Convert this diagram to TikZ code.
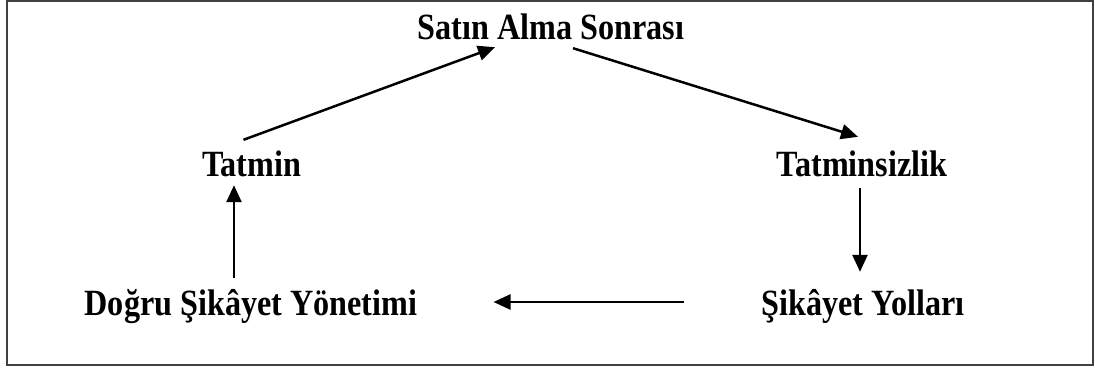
\documentclass[tikz,border=0pt]{standalone}
\usepackage{fontspec}
\newfontfamily\tnr{Liberation Serif}[FakeStretch=0.87]
\usetikzlibrary{arrows.meta}
\begin{document}
\begin{tikzpicture}[x=1pt,y=-1pt,
  lbl/.style={anchor=base,inner sep=0pt,text height=26pt,text depth=8pt,
    font=\tnr\bfseries\fontsize{37}{42}\selectfont},
  arr/.style={line width=2.5pt,-{Triangle[length=17pt,width=15pt]}}]
\useasboundingbox (0,0) rectangle (1095,367);
\draw[line width=2pt,black!75] (7,1) rectangle (1093,365);
\node[lbl] (satin) at (551,39) {Satın Alma Sonrası};
\node[lbl] (tatmin) at (251.5,176) {Tatmin};
\node[lbl] (tatminsiz) at (862,176) {Tatminsizlik};
\node[lbl] (yollari) at (863,315) {Şikâyet Yolları};
\node[lbl] (dogru) at (251,315) {Doğru Şikâyet Yönetimi};
\draw[arr] ([xshift=-8pt,yshift=10pt]tatmin.north) -- ([xshift=-56pt]satin.south);
\draw[arr] ([xshift=22pt,yshift=-1pt]satin.south) -- ([xshift=-4pt,yshift=13pt]tatminsiz.north);
\draw[arr] ([xshift=-2pt,yshift=-4pt]tatminsiz.south) -- ([xshift=-3pt,yshift=17pt]yollari.north);
\draw[arr] ([xshift=-77pt,yshift=4pt]yollari.west) -- ([xshift=76pt,yshift=4pt]dogru.east);
\draw[arr] ([xshift=-17pt,yshift=11pt]dogru.north) -- ([xshift=-17.5pt,yshift=-1pt]tatmin.south);
\end{tikzpicture}
\end{document}
